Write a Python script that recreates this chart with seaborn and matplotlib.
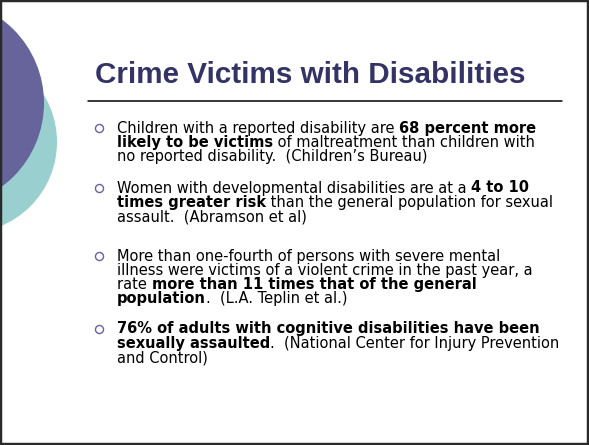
import matplotlib
matplotlib.use("Agg")
import matplotlib.pyplot as plt
import seaborn as sns
from matplotlib.patches import Circle, Rectangle

sns.set_theme(style="white")
plt.rcParams['font.family'] = ['DejaVu Sans']

# slide text
title = "Crime Victims with Disabilities"

# each line is a list of (text, bold) pieces
bullet_1 = [
    [("Children with a reported disability are ", False), ("68 percent more", True)],
    [("likely to be victims", True), (" of maltreatment than children with", False)],
    [("no reported disability.  (Children\u2019s Bureau)", False)],
]
bullet_2 = [
    [("Women with developmental disabilities are at a ", False), ("4 to 10", True)],
    [("times greater risk", True), (" than the general population for sexual", False)],
    [("assault.  (Abramson et al)", False)],
]
bullet_3 = [
    [("More than one-fourth of persons with severe mental", False)],
    [("illness were victims of a violent crime in the past year, a", False)],
    [("rate ", False), ("more than 11 times that of the general", True)],
    [("population", True), (".  (L.A. Teplin et al.)", False)],
]
bullet_4 = [
    [("76% of adults with cognitive disabilities have been", True)],
    [("sexually assaulted", True), (".  (National Center for Injury Prevention", False)],
    [("and Control)", False)],
]
bullets = [bullet_1, bullet_2, bullet_3, bullet_4]
first_line_y = [128, 188, 256, 329]

body_size = 10.5
line_step = 14.3
text_x = 117
bullet_x = 99

purple = "#67639b"
teal = "#99cfcf"
navy = "#333366"

fig = plt.figure(figsize=(5.89, 4.45), dpi=100)
ax = fig.add_axes([0, 0, 1, 1])
ax.set_xlim(0, 589)
ax.set_ylim(445, 0)
ax.axis("off")

# decorative circles on the left
ax.add_patch(Circle((-34, 142), 91, color=teal, lw=0, zorder=1))
ax.add_patch(Circle((-60, 103), 104, color=purple, lw=0, zorder=2))

# title and rule
ax.text(95, 75, title, fontsize=21.3, fontweight="bold", color=navy,
        family="Liberation Sans", va="center", ha="left")
ax.plot([88, 562], [101, 101], color="black", lw=1.1)

renderer = fig.canvas.get_renderer()


def width_of(s, bold):
    # measure with guard characters so spaces are counted
    w = "bold" if bold else "normal"
    t1 = ax.text(0, 0, "|" + s + "|", fontsize=body_size, fontweight=w)
    t2 = ax.text(0, 0, "||", fontsize=body_size, fontweight=w)
    d = t1.get_window_extent(renderer).width - t2.get_window_extent(renderer).width
    t1.remove()
    t2.remove()
    return d


for lines, y0 in zip(bullets, first_line_y):
    ax.plot([bullet_x], [y0], marker="o", ms=5.8, mfc="white", mec=purple, mew=1.0)
    for i, line in enumerate(lines):
        y = y0 + i * line_step
        x = text_x
        for piece, bold in line:
            ax.text(x, y, piece, fontsize=body_size, fontweight="bold" if bold else "normal",
                    color="black", va="center", ha="left")
            x += width_of(piece, bold)

# slide frame
fig.patches.append(Rectangle((0, 0), 1, 1, transform=fig.transFigure, fill=False,
                             lw=3.2, edgecolor="#2a2a2a", zorder=10))

fig.savefig("out.png", dpi=100)
